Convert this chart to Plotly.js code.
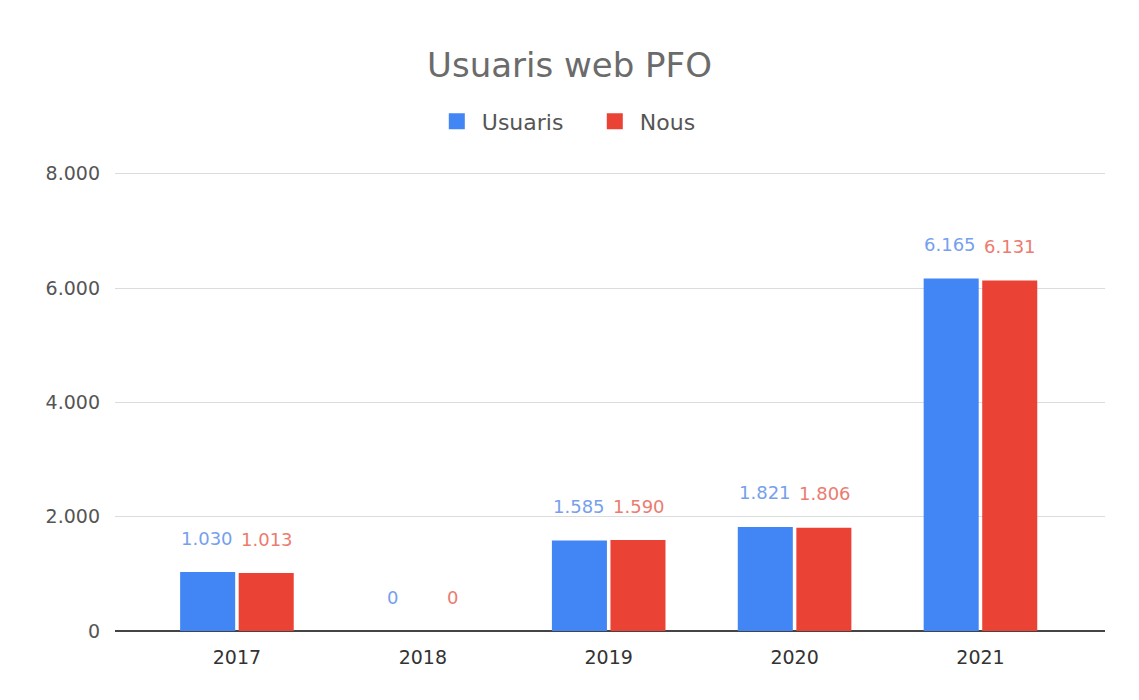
<!DOCTYPE html>
<html>
<head>
<meta charset="utf-8">
<script src="https://cdn.plot.ly/plotly-3.0.1.min.js"></script>
<style>html,body{margin:0;padding:0;background:#fff;}#chart{width:1139px;height:700px;}</style>
</head>
<body>
<div id="chart"></div>
<script>
const years = ['2017', '2018', '2019', '2020', '2021'];
const usuaris = [1030, 0, 1585, 1821, 6165];
const nous = [1013, 0, 1590, 1806, 6131];
const seriesNames = ['Usuaris', 'Nous'];
const yTicks = [0, 2000, 4000, 6000, 8000];

const blue = '#4285F4', red = '#EA4335';
const FONT = '"DejaVu Sans", Roboto, Arial, sans-serif';
const fmt = v => v.toLocaleString('de-DE');

const traces = [
  {type: 'bar', name: seriesNames[0], x: years, y: usuaris, marker: {color: blue}, showlegend: false},
  {type: 'bar', name: seriesNames[1], x: years, y: nous, marker: {color: red}, showlegend: false},
  // legend entries (larger square swatches)
  {type: 'scatter', mode: 'markers', name: seriesNames[0], x: [null], y: [null],
   marker: {symbol: 'square', size: 16, color: blue}},
  {type: 'scatter', mode: 'markers', name: seriesNames[1], x: [null], y: [null],
   marker: {symbol: 'square', size: 16, color: red}}
];

const annotations = [];
[[usuaris, '#76a0ee', -30], [nous, '#ec7b70', 30]].forEach(([vals, col, dx]) => {
  vals.forEach((v, i) => {
    annotations.push({
      xref: 'x', yref: 'y', x: i, y: v, xshift: dx, yshift: 34,
      text: fmt(v), showarrow: false, yanchor: 'middle',
      font: {family: FONT, size: 18, color: col}
    });
  });
});

const layout = {
  width: 1139, height: 700,
  paper_bgcolor: '#fff', plot_bgcolor: '#fff',
  separators: ',.',
  font: {family: FONT, color: '#444'},
  title: {text: 'Usuaris web PFO', x: 0.5, xanchor: 'center', y: 0.907, yanchor: 'middle',
          font: {size: 34, color: '#6b6b6b', family: FONT}},
  showlegend: true,
  legend: {orientation: 'h', x: 0.32, xanchor: 'left', y: 1.11, yanchor: 'middle',
           font: {size: 22, color: '#555'}, itemsizing: 'trace', traceorder: 'normal',
           itemwidth: 40, entrywidth: 103, entrywidthmode: 'pixels'},
  margin: {l: 115, r: 34, t: 172, b: 69},
  barmode: 'group', bargap: 0.37, bargroupgap: 0.06,
  xaxis: {type: 'category', range: [-0.656, 4.67], showgrid: false, zeroline: false,
          showline: false, ticks: '', tickfont: {size: 19, color: '#333'}, ticklabelstandoff: 13},
  yaxis: {range: [0, 8030], tickvals: yTicks, tickformat: ',d', showgrid: true, gridcolor: '#dcdcdc',
          gridwidth: 1, zeroline: true, zerolinecolor: '#444', zerolinewidth: 2,
          ticks: '', ticklabelstandoff: 14, tickfont: {size: 19, color: '#555'}},
  annotations: annotations
};

Plotly.newPlot('chart', traces, layout, {displayModeBar: false, staticPlot: true});
</script>
</body>
</html>
